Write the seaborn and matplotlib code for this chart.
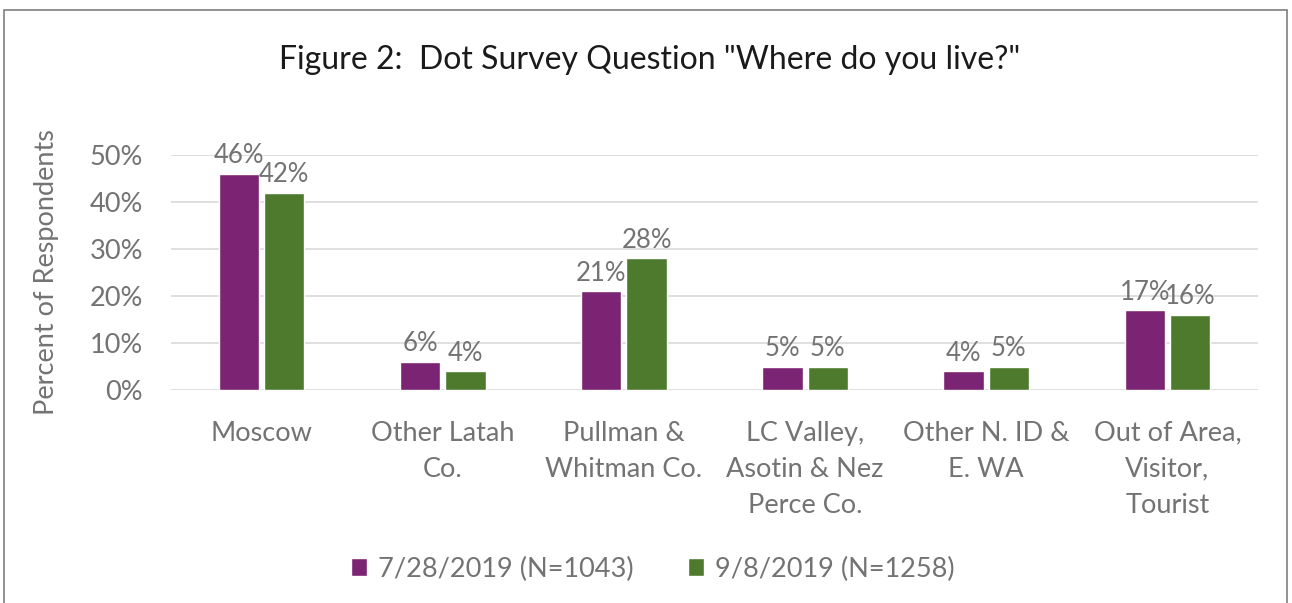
import matplotlib
matplotlib.use("Agg")
import matplotlib.pyplot as plt
from matplotlib.patches import Rectangle
import seaborn as sns
import pandas as pd

categories = ["Moscow", "Other Latah\nCo.", "Pullman &\nWhitman Co.",
              "LC Valley,\nAsotin & Nez\nPerce Co.", "Other N. ID &\nE. WA",
              "Out of Area,\nVisitor,\nTourist"]
series_names = ["7/28/2019 (N=1043)", "9/8/2019 (N=1258)"]
jul_values = [46, 6, 21, 5, 4, 17]
sep_values = [42, 4, 28, 5, 5, 16]
y_ticks = [0, 10, 20, 30, 40, 50]
y_tick_labels = ["0%", "10%", "20%", "30%", "40%", "50%"]
colors = ["#7B2473", "#4E7A2E"]

df = pd.DataFrame({
    "Location": categories * 2,
    "Survey": [series_names[0]] * len(categories) + [series_names[1]] * len(categories),
    "Percent": jul_values + sep_values,
})

sns.set_theme(style="white")
plt.rcParams["font.family"] = ["Lato", "DejaVu Sans"]
TXT = "#737373"

fig = plt.figure(figsize=(12.92, 6.03), dpi=100)
ax = fig.add_axes([171 / 1292, 1 - 390 / 603, (1258 - 171) / 1292, (390 - 155) / 603])

sns.barplot(data=df, x="Location", y="Percent", hue="Survey", order=categories,
            hue_order=series_names, palette=colors, width=0.5, gap=0.11,
            saturation=1, ax=ax, legend=True)

ax.set_ylim(0, 50)
ax.set_xlim(-0.5, len(categories) - 0.5)
ax.set_yticks(y_ticks)
ax.set_yticklabels(y_tick_labels)
ax.yaxis.grid(True, color="#d9d9d9", linewidth=1.2)
ax.set_axisbelow(True)
for s in ax.spines.values():
    s.set_visible(False)
ax.tick_params(axis="y", length=0, pad=20, labelsize=19.5, labelcolor=TXT)
ax.tick_params(axis="x", length=0, pad=22, labelsize=19.5, labelcolor=TXT)
for t in ax.get_xticklabels():
    t.set_linespacing(1.55)
ax.set_xlabel("")
ax.set_ylabel("Percent of Respondents", fontsize=19.5, color=TXT)
ax.yaxis.set_label_coords(-(171 - 59) / (1258 - 171), 0.50)

for cont in ax.containers:
    ax.bar_label(cont, labels=[f"{v:.0f}%" for v in cont.datavalues],
                 padding=4, fontsize=18.5, color=TXT, clip_on=False)

fig.suptitle('Figure 2:  Dot Survey Question "Where do you live?"',
             x=0.503, y=1 - 45 / 603, fontsize=23, color="#1a1a1a")

handles, labels = ax.get_legend_handles_labels()
ax.legend_.remove()
fig.legend(handles, labels, loc="center", bbox_to_anchor=(0.505, 1 - 569 / 603),
           ncol=2, frameon=False, fontsize=19.5, labelcolor=TXT,
           handlelength=0.6, handleheight=0.6, handletextpad=0.4, columnspacing=2.0)

fig.patches.append(Rectangle((4 / 1292, -0.05), (1287 - 4) / 1292, 1.05 - 10 / 603,
                             transform=fig.transFigure, fill=False,
                             edgecolor="#7f7f7f", linewidth=1.2))

fig.savefig("out.png", dpi=100, facecolor="white")
